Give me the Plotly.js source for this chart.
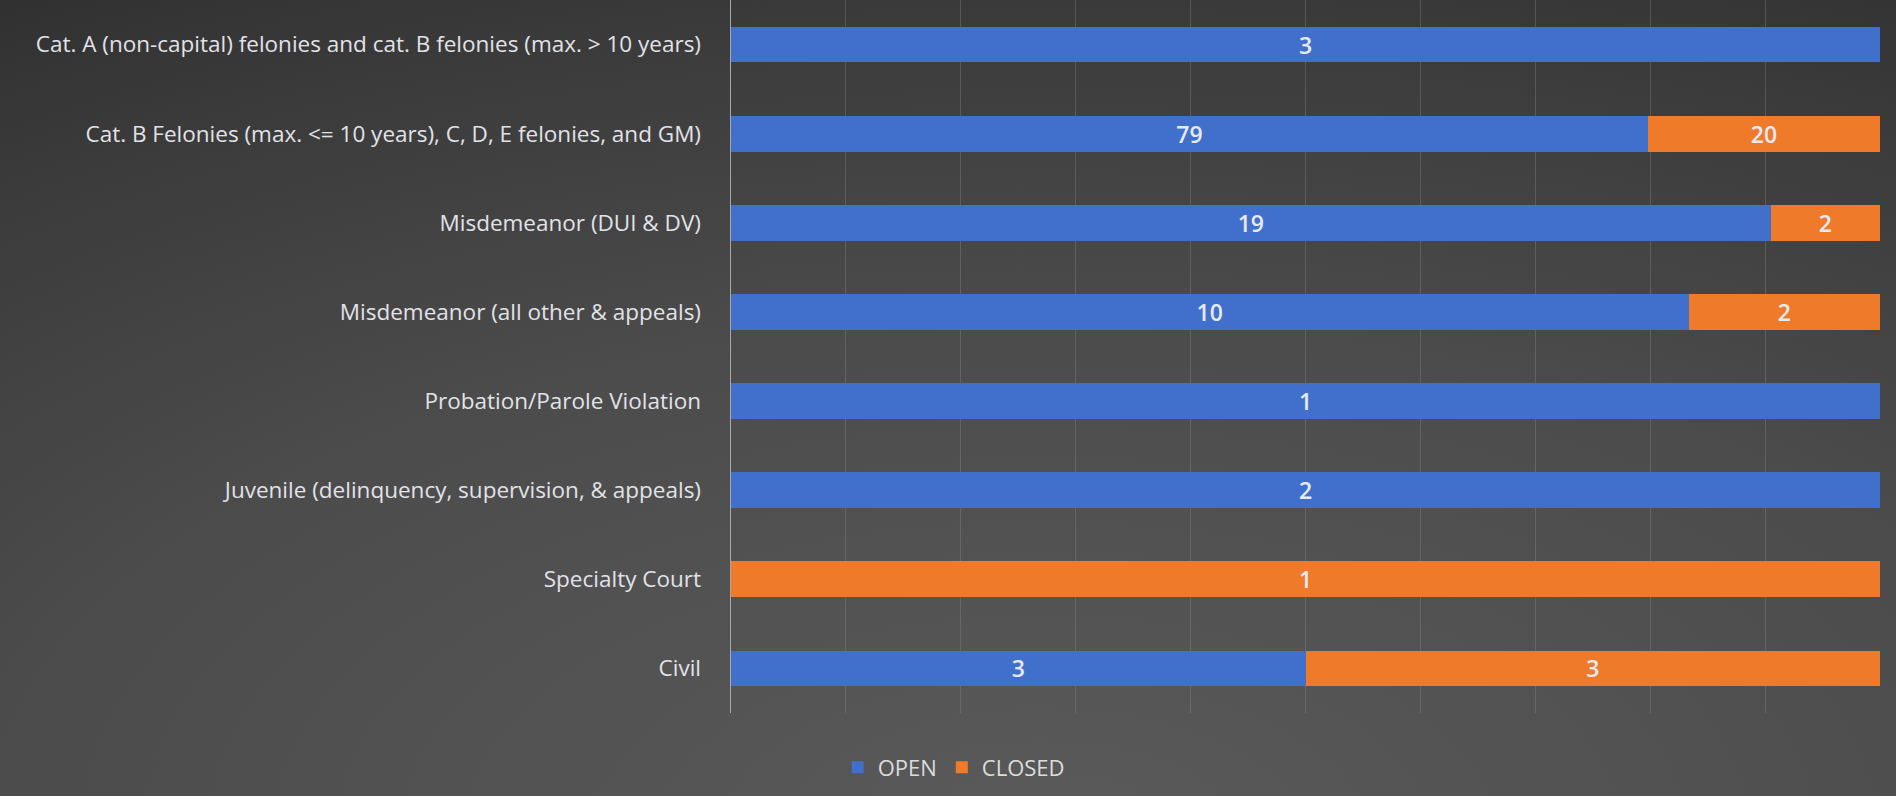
<!DOCTYPE html>
<html>
<head>
<meta charset="utf-8">
<script src="https://cdn.plot.ly/plotly-3.0.1.min.js"></script>
<style>
html,body{margin:0;padding:0;}
body{width:1896px;height:796px;overflow:hidden;
background:radial-gradient(ellipse 120% 140% at 55% 105%, #5a5a5a 0%, #4c4c4c 45%, #3a3a3a 75%, #282828 100%);}
#chart{width:1896px;height:796px;}
</style>
</head>
<body>
<div id="chart"></div>
<script>
const categories = [
  "Cat. A (non-capital) felonies and cat. B felonies (max. > 10 years)",
  "Cat. B Felonies (max. <= 10 years), C, D, E felonies, and GM)",
  "Misdemeanor (DUI & DV)",
  "Misdemeanor (all other & appeals)",
  "Probation/Parole Violation",
  "Juvenile (delinquency, supervision, & appeals)",
  "Specialty Court",
  "Civil"
];
const openValues   = [3, 79, 19, 10, 1, 2, 0, 3];
const closedValues = [0, 20, 2, 2, 0, 0, 1, 3];
const seriesNames = ["OPEN", "CLOSED"];

const fam = "Open Sans, sans-serif";
const labelFont = {family: fam, size: 22.5, color: "#e2e2e8"};

function mk(name, vals, color){
  return {
    type: "bar", orientation: "h", name: name,
    y: categories, x: vals,
    text: vals.map(v => v > 0 ? String(v) : ""),
    textposition: "inside", insidetextanchor: "middle",
    textangle: 0, constraintext: "none",
    textfont: {family: fam, size: 23, color: "#e6eaf4", weight: 600},
    marker: {color: color, line: {width: 0}},
    hoverinfo: "x+y+name"
  };
}

const data = [
  mk(seriesNames[0], openValues, "#4170cc"),
  mk(seriesNames[1], closedValues, "#ef7a2a")
];

const layout = {
  width: 1896, height: 796,
  paper_bgcolor: "rgba(0,0,0,0)", plot_bgcolor: "rgba(0,0,0,0)",
  margin: {l: 731, r: 16, t: 0, b: 83, pad: 0},
  barmode: "stack", barnorm: "percent", bargap: 0.6,
  xaxis: {
    range: [0, 100], dtick: 10, showticklabels: false, ticks: "",
    showgrid: true, gridcolor: "rgba(140,140,140,0.35)", gridwidth: 1,
    zeroline: false, showline: false, fixedrange: true
  },
  yaxis: {
    type: "category", autorange: "reversed",
    showline: true, linecolor: "#a8a8a8", linewidth: 1.5,
    showgrid: false, zeroline: false, ticks: "",
    ticklabelstandoff: 24,
    tickfont: labelFont, fixedrange: true
  },
  showlegend: true,
  legend: {
    orientation: "h", xref: "container", yref: "container",
    traceorder: "normal",
    x: 0.503, xanchor: "center", y: 0.036, yanchor: "middle",
    font: {family: fam, size: 22, color: "#dcdcdc"},
    itemwidth: 30, tracegroupgap: 0, bgcolor: "rgba(0,0,0,0)"
  }
};

Plotly.newPlot("chart", data, layout, {displayModeBar: false, staticPlot: true});
</script>
</body>
</html>
